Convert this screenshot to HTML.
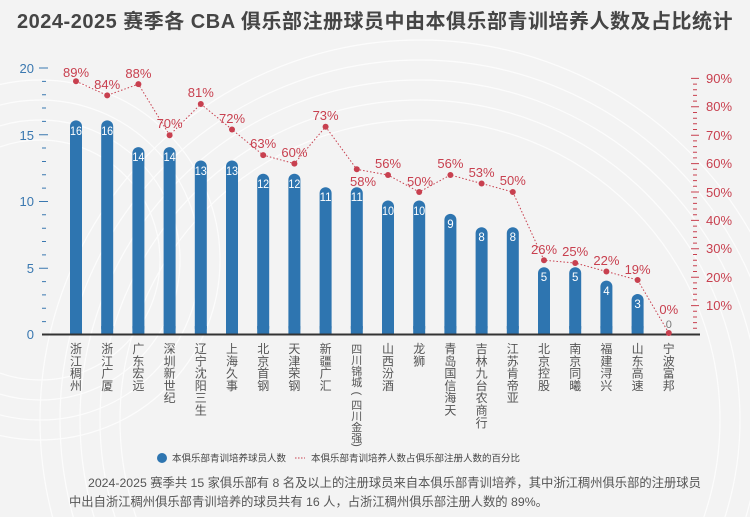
<!DOCTYPE html>
<html><head><meta charset="utf-8"><style>
html,body{margin:0;padding:0;background:#f3f3f3;overflow:hidden}
svg{display:block}
text{font-family:"Liberation Sans","Noto Sans CJK SC",sans-serif}
</style></head><body>
<svg width="750" height="517" viewBox="0 0 750 517" xmlns="http://www.w3.org/2000/svg">
<rect width="750" height="517" fill="#f3f3f3"/>
<g fill="none" stroke="#fff" stroke-width="1.2" opacity="0.8">
<circle cx="420" cy="420" r="300"/><circle cx="420" cy="420" r="320"/><circle cx="420" cy="420" r="340"/><circle cx="420" cy="420" r="360"/><circle cx="420" cy="420" r="380"/>
<circle cx="40" cy="260" r="120"/><circle cx="40" cy="260" r="140"/><circle cx="40" cy="260" r="160"/><circle cx="40" cy="260" r="180"/>
</g>
<text x="375" y="28" text-anchor="middle" font-size="20" font-weight="bold" fill="#454545" letter-spacing="0.5">2024-2025 赛季各 CBA 俱乐部注册球员中由本俱乐部青训培养人数及占比统计</text>

<!-- left axis -->
<g fill="#3a78b0" font-size="13" text-anchor="end">
<text x="34" y="73">20</text><text x="34" y="140">15</text><text x="34" y="206">10</text><text x="34" y="273">5</text><text x="34" y="339">0</text>
</g>
<g stroke="#3a78b0" stroke-width="1">
<path d="M39 68H48M39 134.7H48M39 201.5H48M39 268.2H48"/>
<path d="M42 81.4H46M42 94.7H46M42 108H46M42 121.4H46M42 148H46M42 161.5H46M42 174.8H46M42 188.1H46M42 214.8H46M42 228.2H46M42 241.5H46M42 254.9H46M42 281.6H46M42 294.9H46M42 308.3H46M42 321.6H46"/>
</g>
<!-- right axis -->
<g fill="#c8404f" font-size="13">
<text x="706" y="83">90%</text><text x="706" y="111">80%</text><text x="706" y="140">70%</text><text x="706" y="168">60%</text><text x="706" y="197">50%</text><text x="706" y="225">40%</text><text x="706" y="253">30%</text><text x="706" y="282">20%</text><text x="706" y="310">10%</text>
</g>
<g stroke="#c8404f" stroke-width="1">
<path d="M691 78.4H699M691 106.8H699M691 135.2H699M691 163.6H699M691 192H699M691 220.4H699M691 248.8H699M691 277.2H699M691 305.6H699"/>
<path d="M693 84.1H697M693 89.8H697M693 95.4H697M693 101.1H697M693 112.5H697M693 118.2H697M693 123.8H697M693 129.5H697M693 140.9H697M693 146.6H697M693 152.2H697M693 157.9H697M693 169.3H697M693 175H697M693 180.6H697M693 186.3H697M693 197.7H697M693 203.4H697M693 209H697M693 214.7H697M693 226.1H697M693 231.8H697M693 237.4H697M693 243.1H697M693 254.5H697M693 260.2H697M693 265.8H697M693 271.5H697M693 282.9H697M693 288.6H697M693 294.2H697M693 299.9H697M693 311.3H697M693 317H697M693 322.6H697M693 328.3H697"/>
</g>

<!-- bars -->
<g fill="#2e75b0">
<rect x="70" y="120.4" width="12" height="213.6" rx="6"/>
<rect x="101.2" y="120.4" width="12" height="213.6" rx="6"/>
<rect x="132.4" y="147.1" width="12" height="186.9" rx="6"/>
<rect x="163.6" y="147.1" width="12" height="186.9" rx="6"/>
<rect x="194.8" y="160.5" width="12" height="173.5" rx="6"/>
<rect x="226" y="160.5" width="12" height="173.5" rx="6"/>
<rect x="257.2" y="173.8" width="12" height="160.2" rx="6"/>
<rect x="288.4" y="173.8" width="12" height="160.2" rx="6"/>
<rect x="319.6" y="187.2" width="12" height="146.8" rx="6"/>
<rect x="350.8" y="187.2" width="12" height="146.8" rx="6"/>
<rect x="382" y="200.5" width="12" height="133.5" rx="6"/>
<rect x="413.2" y="200.5" width="12" height="133.5" rx="6"/>
<rect x="444.4" y="213.9" width="12" height="120.1" rx="6"/>
<rect x="475.6" y="227.2" width="12" height="106.8" rx="6"/>
<rect x="506.8" y="227.2" width="12" height="106.8" rx="6"/>
<rect x="538" y="267.3" width="12" height="66.7" rx="6"/>
<rect x="569.2" y="267.3" width="12" height="66.7" rx="6"/>
<rect x="600.4" y="280.6" width="12" height="53.4" rx="6"/>
<rect x="631.6" y="294" width="12" height="40" rx="6"/>
</g>
<g fill="#2e75b0">
<rect x="70" y="326" width="12" height="8"/><rect x="101.2" y="326" width="12" height="8"/><rect x="132.4" y="326" width="12" height="8"/><rect x="163.6" y="326" width="12" height="8"/><rect x="194.8" y="326" width="12" height="8"/><rect x="226" y="326" width="12" height="8"/><rect x="257.2" y="326" width="12" height="8"/><rect x="288.4" y="326" width="12" height="8"/><rect x="319.6" y="326" width="12" height="8"/><rect x="350.8" y="326" width="12" height="8"/><rect x="382" y="326" width="12" height="8"/><rect x="413.2" y="326" width="12" height="8"/><rect x="444.4" y="326" width="12" height="8"/><rect x="475.6" y="326" width="12" height="8"/><rect x="506.8" y="326" width="12" height="8"/><rect x="538" y="326" width="12" height="8"/><rect x="569.2" y="326" width="12" height="8"/><rect x="600.4" y="326" width="12" height="8"/><rect x="631.6" y="326" width="12" height="8"/>
</g>
<g fill="#fff" font-size="11.5" text-anchor="middle">
<text x="76" y="135" textLength="12" lengthAdjust="spacingAndGlyphs">16</text><text x="107.2" y="135" textLength="12" lengthAdjust="spacingAndGlyphs">16</text><text x="138.4" y="161" textLength="12" lengthAdjust="spacingAndGlyphs">14</text><text x="169.6" y="161" textLength="12" lengthAdjust="spacingAndGlyphs">14</text><text x="200.8" y="175" textLength="12" lengthAdjust="spacingAndGlyphs">13</text><text x="232" y="175" textLength="12" lengthAdjust="spacingAndGlyphs">13</text><text x="263.2" y="188" textLength="12" lengthAdjust="spacingAndGlyphs">12</text><text x="294.4" y="188" textLength="12" lengthAdjust="spacingAndGlyphs">12</text><text x="325.6" y="201" textLength="12" lengthAdjust="spacingAndGlyphs">11</text><text x="356.8" y="201" textLength="12" lengthAdjust="spacingAndGlyphs">11</text><text x="388" y="215" textLength="12" lengthAdjust="spacingAndGlyphs">10</text><text x="419.2" y="215" textLength="12" lengthAdjust="spacingAndGlyphs">10</text><text x="450.4" y="228">9</text><text x="481.6" y="241">8</text><text x="512.8" y="241">8</text><text x="544" y="281">5</text><text x="575.2" y="281">5</text><text x="606.4" y="295">4</text><text x="637.6" y="308">3</text>
</g>
<text x="668.8" y="328" fill="#777" font-size="11" text-anchor="middle">0</text>

<!-- baseline -->
<rect x="42" y="333.5" width="658" height="2" fill="#333"/>

<!-- line -->
<polyline fill="none" stroke="#c8404f" stroke-width="1" stroke-dasharray="1.5,2" points="76,81.2 107.2,95.4 138.4,84.1 169.6,135.2 200.8,104 232,129.5 263.2,155.1 294.4,163.6 325.6,126.7 356.8,169.3 388,175 419.2,192 450.4,175 481.6,183.5 512.8,192 544,260.2 575.2,263 606.4,271.5 637.6,280 668.8,333"/>
<g fill="#c8404f">
<circle cx="76" cy="81.2" r="3"/><circle cx="107.2" cy="95.4" r="3"/><circle cx="138.4" cy="84.1" r="3"/><circle cx="169.6" cy="135.2" r="3"/><circle cx="200.8" cy="104" r="3"/><circle cx="232" cy="129.5" r="3"/><circle cx="263.2" cy="155.1" r="3"/><circle cx="294.4" cy="163.6" r="3"/><circle cx="325.6" cy="126.7" r="3"/><circle cx="356.8" cy="169.3" r="3"/><circle cx="388" cy="175" r="3"/><circle cx="419.2" cy="192" r="3"/><circle cx="450.4" cy="175" r="3"/><circle cx="481.6" cy="183.5" r="3"/><circle cx="512.8" cy="192" r="3"/><circle cx="544" cy="260.2" r="3"/><circle cx="575.2" cy="263" r="3"/><circle cx="606.4" cy="271.5" r="3"/><circle cx="637.6" cy="280" r="3"/><circle cx="668.8" cy="333" r="3"/>
</g>
<g fill="#c8404f" font-size="13" text-anchor="middle">
<text x="76" y="77">89%</text><text x="107.2" y="89">84%</text><text x="138.4" y="78">88%</text><text x="169.6" y="128">70%</text><text x="200.8" y="97">81%</text><text x="232" y="123">72%</text><text x="263.2" y="148">63%</text><text x="294.4" y="157">60%</text><text x="325.6" y="120">73%</text><text x="363" y="186">58%</text><text x="388" y="168">56%</text><text x="420" y="186">50%</text><text x="450.4" y="168">56%</text><text x="481.6" y="177">53%</text><text x="512.8" y="185">50%</text><text x="544" y="254">26%</text><text x="575.2" y="256">25%</text><text x="606.4" y="265">22%</text><text x="637.6" y="274">19%</text><text x="668.8" y="314">0%</text>
</g>

<!-- category labels -->
<g fill="#555" font-size="12" text-anchor="middle">
<text x="76" y="353"><tspan x="76">浙</tspan><tspan x="76" dy="12.3">江</tspan><tspan x="76" dy="12.3">稠</tspan><tspan x="76" dy="12.3">州</tspan></text>
<text x="107.2" y="353"><tspan x="107.2">浙</tspan><tspan x="107.2" dy="12.3">江</tspan><tspan x="107.2" dy="12.3">广</tspan><tspan x="107.2" dy="12.3">厦</tspan></text>
<text x="138.4" y="353"><tspan x="138.4">广</tspan><tspan x="138.4" dy="12.3">东</tspan><tspan x="138.4" dy="12.3">宏</tspan><tspan x="138.4" dy="12.3">远</tspan></text>
<text x="169.6" y="353"><tspan x="169.6">深</tspan><tspan x="169.6" dy="12.3">圳</tspan><tspan x="169.6" dy="12.3">新</tspan><tspan x="169.6" dy="12.3">世</tspan><tspan x="169.6" dy="12.3">纪</tspan></text>
<text x="200.8" y="353"><tspan x="200.8">辽</tspan><tspan x="200.8" dy="12.3">宁</tspan><tspan x="200.8" dy="12.3">沈</tspan><tspan x="200.8" dy="12.3">阳</tspan><tspan x="200.8" dy="12.3">三</tspan><tspan x="200.8" dy="12.3">生</tspan></text>
<text x="232" y="353"><tspan x="232">上</tspan><tspan x="232" dy="12.3">海</tspan><tspan x="232" dy="12.3">久</tspan><tspan x="232" dy="12.3">事</tspan></text>
<text x="263.2" y="353"><tspan x="263.2">北</tspan><tspan x="263.2" dy="12.3">京</tspan><tspan x="263.2" dy="12.3">首</tspan><tspan x="263.2" dy="12.3">钢</tspan></text>
<text x="294.4" y="353"><tspan x="294.4">天</tspan><tspan x="294.4" dy="12.3">津</tspan><tspan x="294.4" dy="12.3">荣</tspan><tspan x="294.4" dy="12.3">钢</tspan></text>
<text x="325.6" y="353"><tspan x="325.6">新</tspan><tspan x="325.6" dy="12.3">疆</tspan><tspan x="325.6" dy="12.3">广</tspan><tspan x="325.6" dy="12.3">汇</tspan></text>
<g font-size="11">
<text x="356.8" y="353"><tspan x="356.8">四</tspan><tspan x="356.8" dy="11">川</tspan><tspan x="356.8" dy="11">锦</tspan><tspan x="356.8" dy="11">城</tspan></text>
<text x="356.8" y="397" transform="rotate(90 356.8 393.5)">(</text>
<text x="356.8" y="409"><tspan x="356.8">四</tspan><tspan x="356.8" dy="11">川</tspan><tspan x="356.8" dy="11">金</tspan><tspan x="356.8" dy="11">强</tspan></text>
<text x="356.8" y="448.5" transform="rotate(90 356.8 445)">)</text>
</g>
<text x="388" y="353"><tspan x="388">山</tspan><tspan x="388" dy="12.3">西</tspan><tspan x="388" dy="12.3">汾</tspan><tspan x="388" dy="12.3">酒</tspan></text>
<text x="419.2" y="353"><tspan x="419.2">龙</tspan><tspan x="419.2" dy="12.3">狮</tspan></text>
<text x="450.4" y="353"><tspan x="450.4">青</tspan><tspan x="450.4" dy="12.3">岛</tspan><tspan x="450.4" dy="12.3">国</tspan><tspan x="450.4" dy="12.3">信</tspan><tspan x="450.4" dy="12.3">海</tspan><tspan x="450.4" dy="12.3">天</tspan></text>
<text x="481.6" y="353"><tspan x="481.6">吉</tspan><tspan x="481.6" dy="12.3">林</tspan><tspan x="481.6" dy="12.3">九</tspan><tspan x="481.6" dy="12.3">台</tspan><tspan x="481.6" dy="12.3">农</tspan><tspan x="481.6" dy="12.3">商</tspan><tspan x="481.6" dy="12.3">行</tspan></text>
<text x="512.8" y="353"><tspan x="512.8">江</tspan><tspan x="512.8" dy="12.3">苏</tspan><tspan x="512.8" dy="12.3">肯</tspan><tspan x="512.8" dy="12.3">帝</tspan><tspan x="512.8" dy="12.3">亚</tspan></text>
<text x="544" y="353"><tspan x="544">北</tspan><tspan x="544" dy="12.3">京</tspan><tspan x="544" dy="12.3">控</tspan><tspan x="544" dy="12.3">股</tspan></text>
<text x="575.2" y="353"><tspan x="575.2">南</tspan><tspan x="575.2" dy="12.3">京</tspan><tspan x="575.2" dy="12.3">同</tspan><tspan x="575.2" dy="12.3">曦</tspan></text>
<text x="606.4" y="353"><tspan x="606.4">福</tspan><tspan x="606.4" dy="12.3">建</tspan><tspan x="606.4" dy="12.3">浔</tspan><tspan x="606.4" dy="12.3">兴</tspan></text>
<text x="637.6" y="353"><tspan x="637.6">山</tspan><tspan x="637.6" dy="12.3">东</tspan><tspan x="637.6" dy="12.3">高</tspan><tspan x="637.6" dy="12.3">速</tspan></text>
<text x="668.8" y="353"><tspan x="668.8">宁</tspan><tspan x="668.8" dy="12.3">波</tspan><tspan x="668.8" dy="12.3">富</tspan><tspan x="668.8" dy="12.3">邦</tspan></text>
</g>

<!-- legend -->
<circle cx="162" cy="458" r="5" fill="#2e75b0"/>
<text x="172" y="461.5" font-size="9.5" fill="#444">本俱乐部青训培养球员人数</text>
<line x1="295" y1="458" x2="305" y2="458" stroke="#c8404f" stroke-width="1" stroke-dasharray="1.5,1.5"/>
<text x="311" y="461.5" font-size="9.5" fill="#444">本俱乐部青训培养人数占俱乐部注册人数的百分比</text>

<!-- paragraph -->
<text x="88" y="487" font-size="12.3" fill="#555">2024-2025 赛季共 15 家俱乐部有 8 名及以上的注册球员来自本俱乐部青训培养，其中浙江稠州俱乐部的注册球员</text>
<text x="69" y="506" font-size="12.3" fill="#555">中出自浙江稠州俱乐部青训培养的球员共有 16 人，占浙江稠州俱乐部注册人数的 89%。</text>
</svg>
</body></html>
